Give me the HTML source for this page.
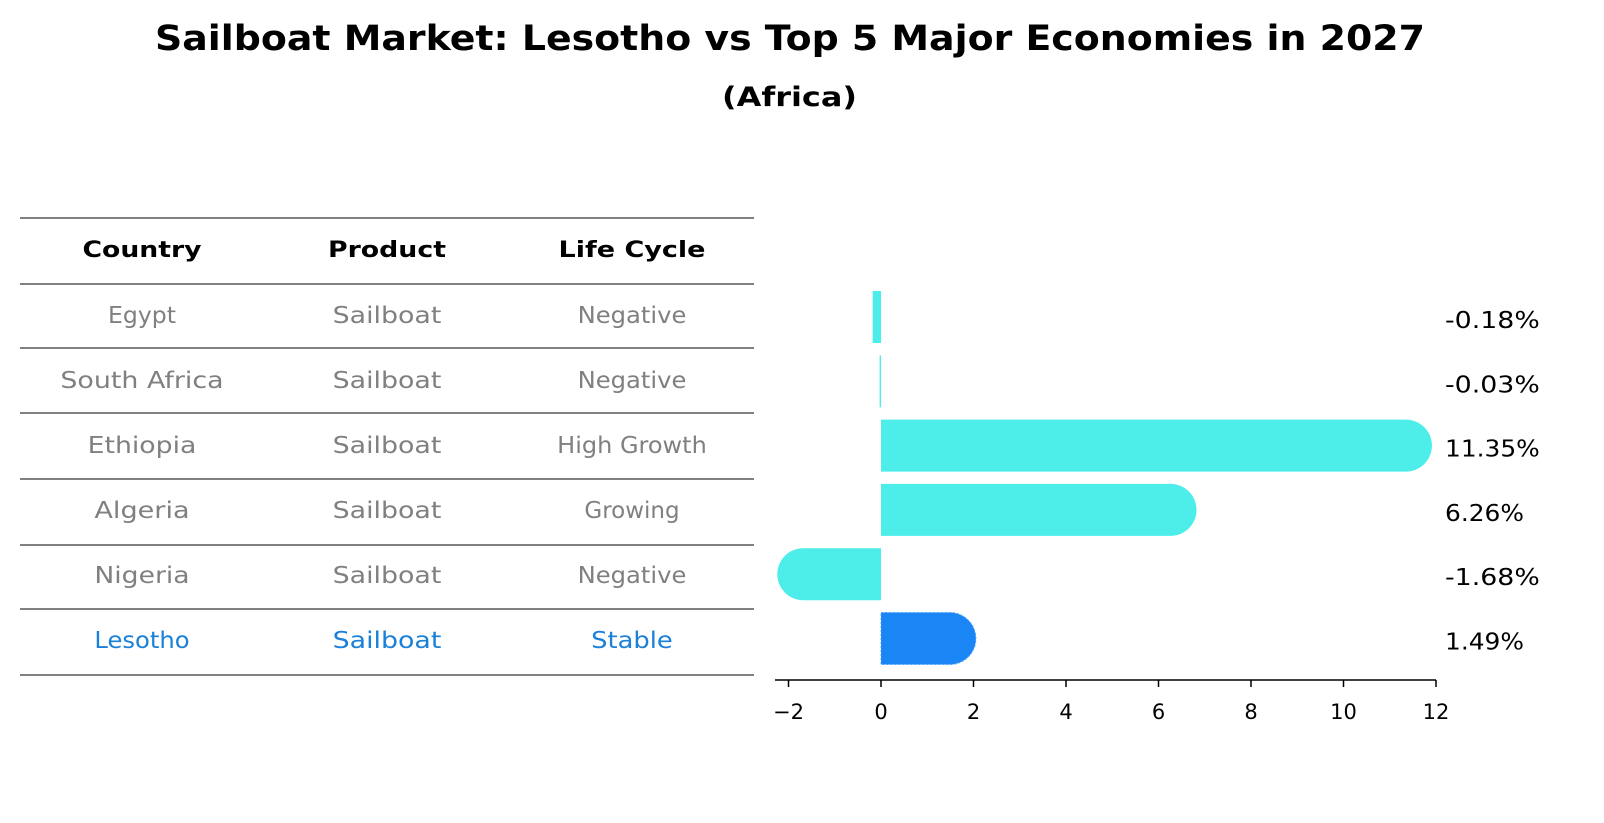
<!DOCTYPE html>
<html><head><meta charset="utf-8"><style>
body{margin:0;background:#fff;font-family:"Liberation Sans","DejaVu Sans",sans-serif}
#wrap{position:relative;width:1604px;height:823px;overflow:hidden}
</style></head><body>
<div id="wrap">
<svg id="svg" width="1604" height="823" xmlns="http://www.w3.org/2000/svg">
<text x="155" y="50" textLength="1270" lengthAdjust="spacingAndGlyphs" font-size="35" font-weight="bold" font-family="DejaVu Sans, sans-serif">Sailboat Market: Lesotho vs Top 5 Major Economies in 2027</text>
<text x="722" y="106" textLength="135" lengthAdjust="spacingAndGlyphs" font-size="27" font-weight="bold" font-family="DejaVu Sans, sans-serif">(Africa)</text>
<g id="table"></g>
<g id="bars"></g>
<g id="axis"></g>
</svg>
</div>
<script>
const countries=["Egypt","South Africa","Ethiopia","Algeria","Nigeria","Lesotho"];
const products=["Sailboat","Sailboat","Sailboat","Sailboat","Sailboat","Sailboat"];
const lifeCycles=["Negative","Negative","High Growth","Growing","Negative","Stable"];
const values=[-0.18,-0.03,11.35,6.26,-1.68,1.49];
const valueLabels=["-0.18%","-0.03%","11.35%","6.26%","-1.68%","1.49%"];
const ticks=[-2,0,2,4,6,8,10,12];
const NS="http://www.w3.org/2000/svg";
function mk(tag,attrs,parent){const e=document.createElementNS(NS,tag);for(const k in attrs)e.setAttribute(k,attrs[k]);parent.appendChild(e);return e;}
const x=v=>881+v*46.25;
const rowY=i=>317+i*64.3;
const ff="DejaVu Sans, sans-serif";
// approximate text widths per character count (reference measured)
const cw=(s,bold)=>s.length*(bold?17:13.6);
const tb=document.getElementById('table');
const lineYs=[218,284,348,413,479,545,609,675];
lineYs.forEach(y=>{const l=mk('line',{x1:20,x2:754,y1:y,y2:y,stroke:'#000','stroke-width':1},tb);

});
const cols=[142,387,632];
["Country","Product","Life Cycle"].forEach((h,j)=>{const w=[119,118,147][j];const t=mk('text',{x:cols[j]-w/2,y:257,textLength:w,lengthAdjust:'spacingAndGlyphs','font-size':22,'font-weight':'bold','font-family':ff},tb);t.textContent=h;

});
countries.forEach((c,i)=>{const y=323+i*65;const col=i===5?'#1a80d8':'#808080';
[c,products[i],lifeCycles[i]].forEach((s,j)=>{const w=cw(s,false);const t=mk('text',{x:cols[j]-w/2,y:y,textLength:w,lengthAdjust:'spacingAndGlyphs','font-size':23,fill:col,'font-family':ff},tb);t.textContent=s;

});});
const bg=document.getElementById('bars');const h=52,r=26;
values.forEach((v,i)=>{const cy=rowY(i);const col=i===5?'#1a86f5':'#4deeea';
const x0=x(0),x1=x(v);let d;
if(Math.abs(v)<1){const a=Math.min(x0,x1),w=Math.max(Math.abs(x1-x0),0.8);d=`M${a},${cy-h/2}h${w}v${h}h${-w}z`;}
else if(v>0){d=`M${x0},${cy-h/2}H${x1}A${r},${r} 0 0 1 ${x1},${cy+h/2}H${x0}z`;}
else{d=`M${x0},${cy-h/2}H${x1}A${r},${r} 0 0 0 ${x1},${cy+h/2}H${x0}z`;}
const p=mk('path',{d:d,fill:col},bg);
if(i===5){p.setAttribute('stroke','#4da6ff');p.setAttribute('stroke-dasharray','2,2');}


const s=valueLabels[i];const w=s.length*15.8;
const t=mk('text',{x:1445,y:cy+11,textLength:w,lengthAdjust:'spacingAndGlyphs','font-size':23,'font-family':ff},bg);t.textContent=s;

});
const ax=document.getElementById('axis');
const al=mk('line',{x1:775,x2:1436,y1:680,y2:680,stroke:'#000','stroke-width':1.5},ax);


ticks.forEach(tk=>{const tl=mk('line',{x1:x(tk),x2:x(tk),y1:680,y2:687,stroke:'#000','stroke-width':1.5},ax);


const t=mk('text',{x:x(tk),y:719,'text-anchor':'middle','font-size':21,'font-family':ff},ax);t.textContent=tk<0?'\u2212'+(-tk):tk;

});
</script>
</body></html>
